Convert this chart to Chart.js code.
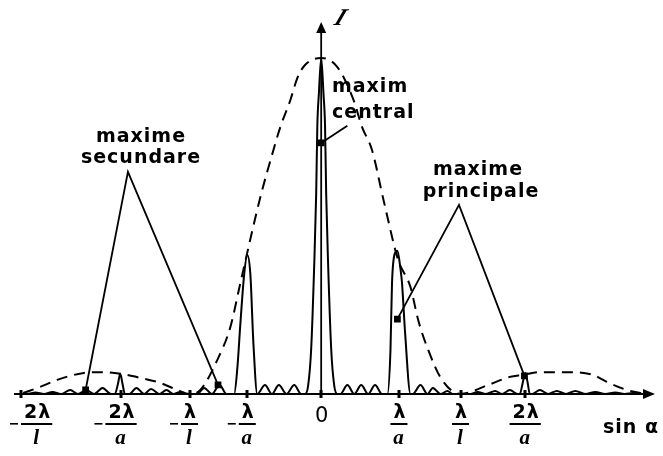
<!DOCTYPE html>
<html>
<head>
<meta charset="utf-8">
<script src="https://cdn.jsdelivr.net/npm/chart.js@4.4.1/dist/chart.umd.min.js"></script>
<style>
  html, body { margin: 0; padding: 0; background: #fff; }
  #wrap { width: 663px; height: 456px; }
</style>
</head>
<body>
<div id="wrap"><canvas id="chart" width="663" height="456"></canvas></div>
<script>
// Intensitate I in functie de sin α (x in unitati de λ/a, desenul nu e la scara)
const curveX = [-3.99, -3.82, -3.71, -3.60, -3.49, -3.38, -3.26, -3.16, -3.05, -2.95, -2.84, -2.73,
    -2.68, -2.64, -2.61, -2.58, -2.55,
    -2.49, -2.40, -2.30, -2.21, -2.10, -2.01, -1.92, -1.83, -1.75,
    -1.61, -1.52, -1.42, -1.32, -1.23,
    -1.13, -1.09, -1.05, -1.00, -0.96, -0.92, -0.88, -0.83,
    -0.73, -0.64, -0.55, -0.45, -0.35, -0.26,
    -0.21, -0.17, -0.13, -0.09, -0.065, -0.05, -0.03, 0, 0.03, 0.05, 0.065, 0.09, 0.13, 0.17, 0.21,
    0.25, 0.34, 0.43, 0.52, 0.61, 0.70, 0.79,
    0.86, 0.90, 0.92, 0.96, 0.99, 1.03, 1.05, 1.09, 1.16,
    1.19, 1.29, 1.38, 1.45, 1.55, 1.64, 1.71,
    1.94, 2.03, 2.14, 2.26, 2.35, 2.45, 2.55,
    2.58, 2.62, 2.65, 2.68, 2.71,
    2.74, 2.84, 2.95, 3.06, 3.18, 3.30, 3.43, 3.56, 3.69, 3.82, 3.94, 4.05, 4.17, 4.31];
const curveY = [0, 0, 0.45, 0, 0.6, 0, 1.2, 0, 1.2, 0, 1.8, 0,
    0, 3.0, 6.0, 3.0, 0,
    0, 1.8, 0, 1.5, 0, 1.2, 0, 0.6, 0,
    0, 1.8, 0, 2.7, 0,
    0, 7.4, 20.8, 35.7, 41.4, 35.7, 14.9, 0,
    2.7, 0, 2.7, 0, 2.7, 0,
    0, 2.4, 13.4, 38.7, 59.5, 79.8, 89.3, 100, 89.3, 79.8, 59.5, 38.7, 13.4, 2.4, 0,
    0, 2.7, 0, 2.7, 0, 2.7, 0,
    0, 13.1, 33.0, 42.0, 42.6, 37.2, 33.0, 18.2, 0,
    0, 2.7, 0, 1.8, 0, 0.9, 0,
    0, 0.6, 0, 0.9, 0, 1.2, 0,
    0, 3.6, 6.25, 3.6, 0,
    0, 1.2, 0, 0.9, 0, 0.9, 0, 0.6, 0, 0.45, 0, 0.3, 0, 0];

// anvelopa de difractie (linie intrerupta)
const envX = [-3.87, -3.65, -3.43, -3.10, -2.87, -2.61, -2.35, -2.09, -1.87, -1.71,
    -1.57, -1.35, -1.18, -1.05, -0.79, -0.62, -0.53, -0.40, -0.31, -0.21,
    0, 0.21, 0.42, 0.53, 0.66, 0.81, 1.00, 1.16, 1.26, 1.39,
    1.57, 1.81, 2.17, 2.45, 2.62, 2.84, 3.06, 3.27, 3.53, 3.71, 3.97, 4.21];
const envY = [0.3, 2.1, 4.2, 6.2, 6.5, 6.0, 4.8, 3.3, 1.2, 0,
    1.2, 10.1, 19.9, 33.0, 58.6, 72.6, 79.5, 87.5, 94.0, 97.9,
    100, 97.3, 87.5, 79.5, 72.6, 57.7, 39.9, 31.8, 22.0, 13.1,
    4.2, 0, 2.7, 5.1, 5.7, 6.5, 6.5, 6.5, 5.7, 3.6, 1.2, 0];

// repere pe axa sin α
const tickVals = [-3.90, -2.60, -1.71, -0.96, 0, 1.01, 1.81, 2.65];
const tickNum = ["2λ", "2λ", "λ", "λ", "0", "λ", "λ", "2λ"];
const tickDen = ["l", "a", "l", "a", "", "a", "l", "a"];
const tickNeg = [true, true, true, true, false, false, false, false];

// sagetile de la etichete: [x, I]
const pointerSec = [[-3.06, 1.2], [-2.51, 66.1], [-1.34, 2.7]];
const pointerPrin = [[0.99, 22.3], [1.79, 56.3], [2.64, 5.4]];
const pointerCen = [[0.34, 79.8], [0, 74.7]];

const xMin = -3.99, xMax = 4.31, yMax = 110.7;

function toPoints(xs, ys) {
    return xs.map((x, i) => ({ x: x, y: ys[i] }));
}
function pairs(list) {
    return list.map(p => ({ x: p[0], y: p[1] }));
}

const axesPlugin = {
    id: "axesPlugin",
    afterDatasetsDraw(chart) {
        const { ctx, chartArea, scales } = chart;
        const sx = scales.x, sy = scales.y;
        const y0 = sy.getPixelForValue(0);
        const x0 = sx.getPixelForValue(0);
        ctx.save();
        ctx.strokeStyle = "#000";
        ctx.fillStyle = "#000";

        // axa sin α
        ctx.lineWidth = 2;
        ctx.beginPath();
        ctx.moveTo(chartArea.left, y0);
        ctx.lineTo(chartArea.right - 6, y0);
        ctx.stroke();
        ctx.beginPath();
        ctx.moveTo(chartArea.right + 2, y0);
        ctx.lineTo(chartArea.right - 10, y0 - 5);
        ctx.lineTo(chartArea.right - 10, y0 + 5);
        ctx.closePath();
        ctx.fill();

        // axa I
        ctx.lineWidth = 1.8;
        ctx.beginPath();
        ctx.moveTo(x0, y0);
        ctx.lineTo(x0, chartArea.top + 6);
        ctx.stroke();
        ctx.beginPath();
        ctx.moveTo(x0, chartArea.top);
        ctx.lineTo(x0 - 5, chartArea.top + 11);
        ctx.lineTo(x0 + 5, chartArea.top + 11);
        ctx.closePath();
        ctx.fill();

        // repere + etichete (fractii)
        tickVals.forEach((v, i) => {
            let px = sx.getPixelForValue(v);
            ctx.fillRect(Math.round(px) - 1.5, y0 - 4, 3, 8);
            const barY = 424;
            ctx.textAlign = "center";
            ctx.textBaseline = "alphabetic";
            ctx.letterSpacing = "1px";
            if (!tickDen[i]) {
                ctx.font = "21px 'DejaVu Sans'";
                ctx.fillText(tickNum[i], px + 1, 422);
                return;
            }
            ctx.font = "bold 19px 'DejaVu Sans'";
            const w = ctx.measureText(tickNum[i]).width + 4;
            if (tickNeg[i]) px = Math.max(px, 10 + 11 + w / 2);
            ctx.fillText(tickNum[i], px + 1, 418);
            ctx.fillRect(px - w / 2, barY - 1, w, 2);
            ctx.font = "bold italic 21px 'Liberation Serif'";
            ctx.fillText(tickDen[i], px, 444);
            if (tickNeg[i]) {
                ctx.fillRect(px - w / 2 - 11, barY - 1, 8, 1.6);
            }
        });

        // titluri axe
        ctx.letterSpacing = "1px";
        ctx.font = "bold 19px 'DejaVu Sans'";
        ctx.textAlign = "left";
        ctx.fillText("sin α", 603, 433);
        ctx.letterSpacing = "0px";
        ctx.save();
        ctx.translate(333, 25);
        ctx.transform(1, 0, -0.4, 1, 0, 0);
        ctx.font = "bold italic 24px 'Liberation Serif'";
        ctx.fillText("I", 0, 0);
        ctx.restore();

        // etichete
        ctx.letterSpacing = "1px";
        ctx.font = "bold 19px 'DejaVu Sans'";
        ctx.textAlign = "center";
        ctx.fillText("maxime", 141, 142);
        ctx.fillText("secundare", 141, 163);
        ctx.fillText("maxime", 478, 175);
        ctx.fillText("principale", 481, 197);
        ctx.textAlign = "left";
        ctx.fillText("maxim", 332, 92);
        ctx.fillText("central", 332, 118);
        ctx.restore();
    }
};

const lineBase = {
    borderColor: "#000",
    backgroundColor: "#000",
    borderWidth: 2,
    pointRadius: 0,
    fill: false,
    clip: false
};

new Chart(document.getElementById("chart"), {
    type: "scatter",
    data: {
        datasets: [
            Object.assign({}, lineBase, {
                label: "I",
                data: toPoints(curveX, curveY),
                showLine: true,
                cubicInterpolationMode: "monotone"
            }),
            Object.assign({}, lineBase, {
                label: "anvelopa",
                data: toPoints(envX, envY),
                showLine: true,
                borderDash: [11, 7],
                cubicInterpolationMode: "monotone"
            }),
            Object.assign({}, lineBase, {
                label: "maxime secundare",
                data: pairs(pointerSec),
                showLine: true,
                borderWidth: 1.8,
                pointStyle: "rect",
                pointRadius: [3.5, 0, 3.5]
            }),
            Object.assign({}, lineBase, {
                label: "maxime principale",
                data: pairs(pointerPrin),
                showLine: true,
                borderWidth: 1.8,
                pointStyle: "rect",
                pointRadius: [3.5, 0, 3.5]
            }),
            Object.assign({}, lineBase, {
                label: "maxim central",
                data: pairs(pointerCen),
                showLine: true,
                borderWidth: 1.8,
                pointStyle: "rect",
                pointRadius: [0, 3.5]
            })
        ]
    },
    options: {
        responsive: false,
        animation: false,
        devicePixelRatio: 1,
        layout: { padding: { left: 14, right: 10, top: 22, bottom: 62 } },
        plugins: { legend: { display: false }, tooltip: { enabled: false } },
        scales: {
            x: { type: "linear", min: xMin, max: xMax, display: false },
            y: { type: "linear", min: 0, max: yMax, display: false }
        }
    },
    plugins: [axesPlugin]
});
</script>
</body>
</html>
